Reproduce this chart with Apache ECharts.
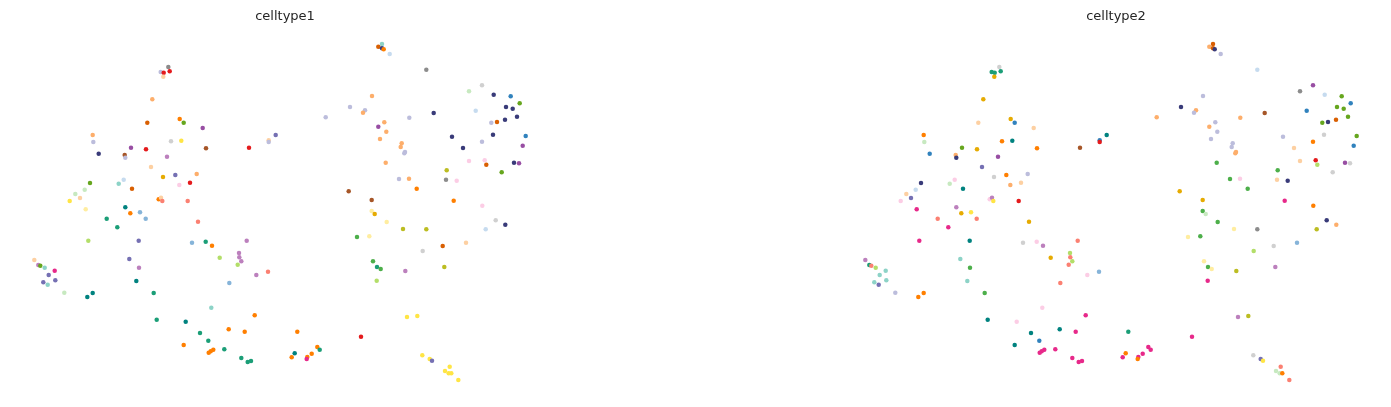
<!DOCTYPE html>
<html>
<head>
<meta charset="utf-8">
<script src="https://cdn.jsdelivr.net/npm/echarts@6/dist/echarts.min.js"></script>
<style>
html,body{margin:0;padding:0;background:#fff;}
#chart{width:1391px;height:407px;}
</style>
</head>
<body>
<div id="chart"></div>
<script>
// Embedding coordinates (shared by both panels)
const umap1 = [
168.3,160.7,163.7,169.7,163.3,152.3,147.3,179.7,183.7,202.7,
92.7,93.3,171,181.3,131,146,206,249,268.7,268.7,
275.7,98.7,124.7,125.3,167,151,163,175.3,196.7,179.3,
190,90,118.7,123.7,132,84.7,75.3,80,69.7,158.7,
161,162.3,187.7,125.3,85.7,130.3,140,145.7,106.7,117.3,
198,88.3,138.7,192,205.7,212,246.7,239,239.3,241.3,
219.7,237.7,256.3,268,129.3,139,136.3,34.3,38.3,40.3,
44.7,54.7,48.7,55.3,43.3,47.7,64.3,92.7,87.3,153.7,
229.3,211.3,254.7,156.7,185.7,228.7,244.7,200,208.3,183.7,
224.3,213.3,210.7,208.7,241.3,247.7,251,382,378.3,382,
383.7,389.7,426.3,469,482,493.7,510.7,519.7,506,512.7,
517,505,497,491.3,475.7,433.7,372,350,365,363,
325.7,384.3,378.3,409.3,386.3,380,452,493,525.7,482,
522.7,463,401.7,400.7,405,404.3,469,484.7,486.3,514,
519,501.7,446.7,446,456.7,385.7,399,409,416.7,348.7,
371.7,453.7,482.3,371.7,374.7,386.7,403,426.3,357,369.3,
495.7,505.3,485.7,466,442.7,422.7,373,377,380.7,405.3,
444.3,376.7,407,417.3,297.3,361,317.3,319.7,294.7,311.7,
291.7,307.3,306.7,422.3,429.7,432,449.7,445,448.7,451.3,
458.3
];
const umap2 = [
67,72,72.7,71.3,76.7,99.3,122.7,119,122.7,128,
135,142,141.3,140.7,147.7,149.3,148.3,147.7,140.3,142,
135,153.7,155,157.7,156.7,167,177,175,174,185,
182.7,183,183.7,179.7,188.7,189.7,194,198,201,199.3,
197.7,201,201,207.3,209.3,213.3,212.3,218.7,218.7,227.3,
221.7,240.7,240.7,242.7,241.7,245.7,240.7,253,257.3,261.3,
257.7,264.7,275,271.7,259,267.7,281,260,265,265.7,
267.7,270.7,275,280.3,282.3,284.7,292.7,293,297,293,
283,307.7,315.3,319.7,321.7,329.3,331.7,333,340.7,345,
349.3,349.7,351.3,352.7,358,362,361,44,46.7,48.3,
49.3,54,69.7,91.3,85.3,94.7,96.3,103.3,107,108.7,
116.7,119.7,122,122.7,110.7,113,96,107,110.3,112.7,
117.3,122.3,126.7,117.7,131.7,139,136.7,134.7,136,141.7,
145.7,148,143.3,147,152,153.3,161,160.3,164.7,162.7,
163.3,172.3,170.3,179.7,180.7,162.7,179,178.7,188.7,191.3,
200,200.7,205.7,211,214,222,229,229.3,237,236.3,
220.3,224.7,229.3,242.7,246,251,261.3,267,269,271,
267,280.7,317,316,331.7,336.7,347,349.7,353.3,353.7,
357.3,357,359,355.3,359,360.7,366.7,371,373.3,373.3,
380
];
// Cluster colour labels per cell, panel 1 (celltype1)
const celltype1 = [
'grey','lavender','red','red','peach','lightorange','darkorange','orange','leaf','purple',
'lightorange','lavender','lightgrey','yellow','purple','red','brown','red','peach','lavender',
'slate','navy','brown','lavender','orchid','peach','gold','slate','lightorange','pink',
'red','leaf','lightteal','paleblue','darkorange','lightgreen','lightgreen','peach','yellow','orange',
'peach','salmon','salmon','teal','lightyellow','orange','lightblue','lightblue','greenteal','greenteal',
'salmon','lime','slate','lightblue','greenteal','orange','orchid','orchid','orchid','orchid',
'lime','lime','orchid','salmon','slate','orchid','teal','peach','orchid','leaf',
'lightteal','magenta','slate','slate','slate','lightteal','lightgreen','teal','teal','greenteal',
'lightblue','lightteal','orange','greenteal','teal','orange','orange','greenteal','greenteal','orange',
'greenteal','orange','orange','orange','greenteal','greenteal','greenteal','lightteal','darkorange','navy',
'orange','paleblue','grey','lightgreen','lightgrey','navy','blue','leaf','navy','navy',
'navy','navy','darkorange','lavender','paleblue','navy','lightorange','lavender','lavender','lightorange',
'lavender','lightorange','purple','lavender','lightorange','lightorange','navy','navy','blue','lavender',
'purple','navy','lightorange','lightorange','lavender','lavender','pink','pink','darkorange','navy',
'purple','leaf','olive','grey','pink','lightorange','lavender','lightorange','orange','brown',
'brown','orange','pink','lightyellow','gold','lightyellow','olive','olive','green','lightyellow',
'lightgrey','navy','paleblue','peach','darkorange','lightgrey','green','greenteal','green','orchid',
'olive','lime','yellow','yellow','orange','red','orange','greenteal','teal','orange',
'orange','orange','magenta','yellow','yellow','slate','yellow','yellow','yellow','yellow',
'yellow'
];
// Cluster colour labels per cell, panel 2 (celltype2)
const celltype2 = [
'lightgrey','greenteal','greenteal','greenteal','gold','gold','peach','gold','blue','peach',
'orange','lightgreen','orange','teal','leaf','gold','orange','brown','blue','red',
'teal','blue','lightorange','navy','purple','slate','lightgrey','orange','lavender','lightorange',
'peach','navy','lightgreen','pink','teal','paleblue','peach','slate','pink','pink',
'orchid','yellow','red','orchid','magenta','gold','yellow','salmon','salmon','magenta',
'gold','magenta','teal','lightgrey','pink','orchid','salmon','lime','salmon','lime',
'gold','salmon','pink','lightblue','lightteal','green','lightteal','orchid','greenteal','salmon',
'lime','lightteal','lightteal','lightteal','lightteal','slate','lavender','orange','orange','green',
'salmon','pink','magenta','teal','pink','teal','magenta','teal','blue','teal',
'magenta','magenta','magenta','magenta','magenta','magenta','magenta','darkorange','lightorange','darkorange',
'navy','lavender','paleblue','grey','purple','paleblue','leaf','blue','leaf','leaf',
'leaf','darkorange','navy','leaf','blue','brown','lavender','navy','lightorange','lavender',
'lightorange','lavender','lightorange','lightorange','lavender','lavender','lavender','lightgrey','leaf','orange',
'blue','peach','lavender','lavender','lightorange','lightorange','peach','red','lime','purple',
'lightgrey','lightgrey','green','peach','navy','green','green','pink','green','gold',
'gold','magenta','orange','green','lightgreen','green','lightyellow','grey','lightyellow','green',
'navy','lightorange','olive','lightblue','lightgrey','lime','lightyellow','green','lightyellow','olive',
'orchid','magenta','orchid','olive','greenteal','magenta','magenta','magenta','orange','magenta',
'magenta','magenta','orange','lightgrey','slate','yellow','salmon','lightgreen','lightgreen','orange',
'salmon'
];
const panelTitles = ['celltype1', 'celltype2'];

const palette = {
  red:'#e41a1c', grey:'#8c8c8c', lightgrey:'#d0d0d0', lavender:'#bcbddc', paleblue:'#c6dbef',
  peach:'#fdd0a2', lightorange:'#fdae6b', darkorange:'#d95f02', orange:'#ff7f00',
  green:'#4daf4a', leaf:'#66a61e', purple:'#984ea3', yellow:'#ffe545', lightyellow:'#ffeda0',
  brown:'#a65628', slate:'#7570b3', navy:'#393b79', orchid:'#bc80bd', lightteal:'#8dd3c7',
  teal:'#00827f', greenteal:'#1b9e77', lime:'#b3de69', magenta:'#e7298a', salmon:'#fb8072',
  pink:'#fccde5', lightgreen:'#c7e9c0', blue:'#3182bd', lightblue:'#86b4d9', olive:'#bcbd22',
  gold:'#e6ab02'
};

const labelsByPanel = [celltype1, celltype2];
const gridLefts = [20, 851];
const gridW = 520;

const chart = echarts.init(document.getElementById('chart'), null, {renderer:'canvas'});
const option = {
  backgroundColor:'#ffffff',
  animation:false,
  title: panelTitles.map((t,i)=>({
    text:t, left: gridLefts[i] + gridW/2, top: 5, textAlign:'center',
    textStyle:{fontFamily:'DejaVu Sans', fontSize:13, fontWeight:'normal', color:'#262626'}
  })),
  grid: gridLefts.map(l=>({left:l, top:30, width:gridW, height:360})),
  xAxis: gridLefts.map((l,i)=>({gridIndex:i, type:'value', min:20, max:540, show:false})),
  yAxis: gridLefts.map((l,i)=>({gridIndex:i, type:'value', min:30, max:390, inverse:true, show:false})),
  series: labelsByPanel.map((labels,i)=>({
    type:'scatter', xAxisIndex:i, yAxisIndex:i, symbolSize:4.5,
    data: umap1.map((x,k)=>[x, umap2[k], labels[k]]),
    itemStyle:{ opacity:1, color: p => palette[p.data[2]] }
  }))
};
chart.setOption(option);
</script>
</body>
</html>
